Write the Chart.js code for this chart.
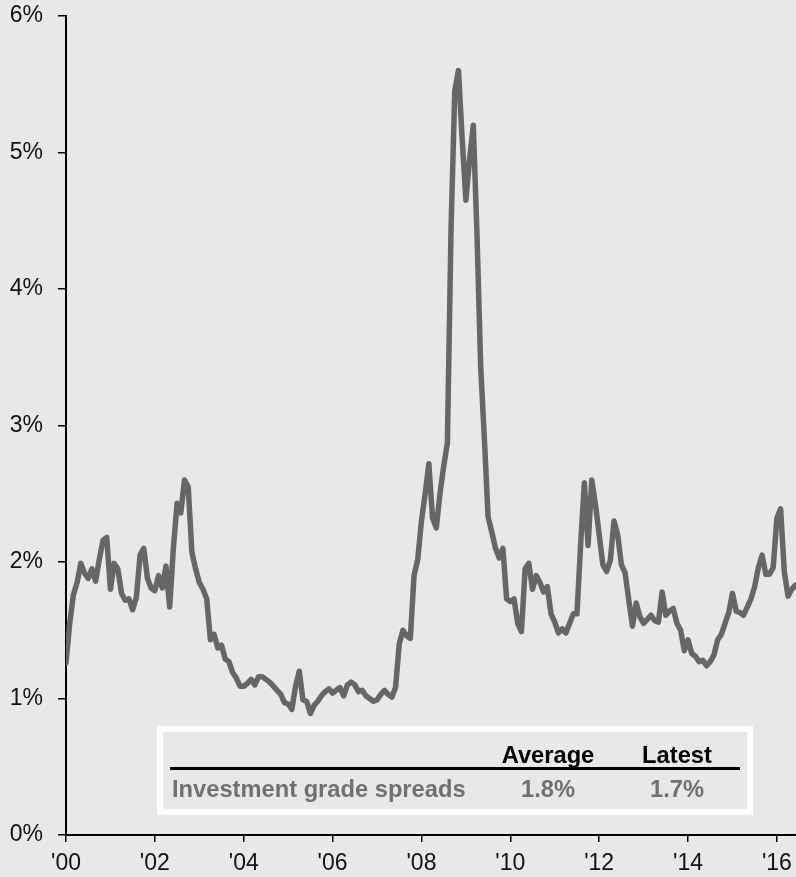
<!DOCTYPE html>
<html>
<head>
<meta charset="utf-8">
<script src="https://cdn.jsdelivr.net/npm/chart.js@4.4.1/dist/chart.umd.min.js"></script>
<style>
    html, body { margin: 0; padding: 0; background: #e8e8e8; }
    #wrap {
        position: relative;
        width: 796px;
        height: 877px;
        background: #e8e8e8;
        font-family: 'Liberation Sans', Arial, sans-serif;
    }
    #chart { position: absolute; left: 0; top: 0; }
    .box {
        position: absolute;
        left: 157px; top: 726px;
        width: 596px; height: 89px;
        border: 6px solid #fff;
        box-sizing: border-box;
    }
    .t {
        position: absolute;
        font-weight: bold;
        font-size: 23.7px;
        line-height: 24px;
        white-space: nowrap;
    }
    .head { color: #000; top: 743px; }
    .row { color: #707070; top: 777px; }
    .c { width: 200px; text-align: center; }
    .rule {
        position: absolute;
        left: 170px; top: 767px;
        width: 570px; height: 3px;
        background: #000;
    }
</style>
</head>
<body>
<div id="wrap">
    <canvas id="chart" width="796" height="877"></canvas>
    <div class="box"></div>
    <div class="t head c" id="h-avg" style="left:448px"></div>
    <div class="t head c" id="h-last" style="left:577px"></div>
    <div class="rule"></div>
    <div class="t row" id="r-name" style="left:172px"></div>
    <div class="t row c" id="r-avg" style="left:448px"></div>
    <div class="t row c" id="r-last" style="left:577px"></div>
</div>
<script>
// monthly investment grade spreads (%), Jan 2000 onwards
const startYear = 2000;
const spreads = [
    1.26, 1.55, 1.76, 1.85, 1.99, 1.92, 1.88, 1.95, 1.86, 2.02, 2.16, 2.18, // 2000
    1.80, 1.99, 1.95, 1.77, 1.72, 1.73, 1.65, 1.74, 2.05, 2.10, 1.88, 1.81, // 2001
    1.79, 1.90, 1.81, 1.97, 1.67, 2.10, 2.43, 2.36, 2.60, 2.55, 2.07, 1.95, // 2002
    1.85, 1.80, 1.73, 1.43, 1.47, 1.37, 1.39, 1.29, 1.27, 1.19, 1.15, 1.09, // 2003
    1.09, 1.11, 1.14, 1.10, 1.16, 1.16, 1.14, 1.12, 1.09, 1.06, 1.03, 0.97, // 2004
    0.96, 0.92, 1.09, 1.20, 0.99, 0.98, 0.89, 0.95, 0.98, 1.02, 1.05, 1.07, // 2005
    1.04, 1.06, 1.08, 1.02, 1.10, 1.12, 1.10, 1.05, 1.06, 1.02, 1.00, 0.98, // 2006
    0.99, 1.03, 1.06, 1.03, 1.01, 1.08, 1.40, 1.50, 1.46, 1.44, 1.90, 2.02, // 2007
    2.30, 2.50, 2.72, 2.32, 2.25, 2.50, 2.70, 2.87, 4.45, 5.45, 5.60, 5.10, // 2008
    4.65, 4.95, 5.20, 4.40, 3.43, 2.90, 2.33, 2.22, 2.10, 2.03, 2.10, 1.73, // 2009
    1.71, 1.73, 1.55, 1.49, 1.95, 1.99, 1.80, 1.90, 1.85, 1.78, 1.82, 1.62, // 2010
    1.56, 1.48, 1.51, 1.48, 1.55, 1.62, 1.62, 2.13, 2.58, 2.12, 2.60, 2.42, // 2011
    2.20, 1.98, 1.93, 2.01, 2.30, 2.20, 1.98, 1.92, 1.72, 1.53, 1.70, 1.60, // 2012
    1.55, 1.58, 1.61, 1.57, 1.56, 1.78, 1.61, 1.64, 1.66, 1.55, 1.50, 1.35, // 2013
    1.43, 1.33, 1.31, 1.27, 1.28, 1.24, 1.27, 1.32, 1.43, 1.47, 1.55, 1.63, // 2014
    1.77, 1.64, 1.63, 1.61, 1.67, 1.73, 1.82, 1.96, 2.05, 1.91, 1.91, 1.96, // 2015
    2.32, 2.39, 1.93, 1.75, 1.80, 1.83                                      // 2016
];
const tickYears = [2000, 2002, 2004, 2006, 2008, 2010, 2012, 2014, 2016];
const yTicks = [0, 1, 2, 3, 4, 5, 6];

const tableHeaders = ['Average', 'Latest'];
const seriesName = 'Investment grade spreads';
const averageSpread = 1.8;
const latestSpread = 1.7;

document.getElementById('h-avg').textContent = tableHeaders[0];
document.getElementById('h-last').textContent = tableHeaders[1];
document.getElementById('r-name').textContent = seriesName;
document.getElementById('r-avg').textContent = averageSpread.toFixed(1) + '%';
document.getElementById('r-last').textContent = latestSpread.toFixed(1) + '%';

const points = spreads.map((v, i) => ({ x: startYear + i / 12, y: v }));
const tickFont = { family: "'Liberation Sans', Arial, sans-serif", size: 23 };

// keep the plot area where the original has it, ignoring label overflow padding
function noPadding(scale) {
    scale.paddingTop = 0;
    scale.paddingBottom = 0;
    scale.paddingLeft = 0;
    scale.paddingRight = 0;
}

new Chart(document.getElementById('chart'), {
    type: 'line',
    data: {
        datasets: [{
            label: seriesName,
            data: points,
            borderColor: '#666666',
            borderWidth: 5.5,
            pointRadius: 0,
            tension: 0,
            borderJoinStyle: 'round',
            borderCapStyle: 'round'
        }]
    },
    options: {
        responsive: false,
        animation: false,
        layout: { padding: { top: 16, right: 0, bottom: 0, left: 0 } },
        plugins: {
            legend: { display: false },
            tooltip: { enabled: false }
        },
        scales: {
            x: {
                type: 'linear',
                min: startYear,
                max: 2016.43,
                afterBuildTicks: scale => {
                    scale.ticks = tickYears.map(v => ({ value: v }));
                },
                afterFit: scale => { scale.height = 42; noPadding(scale); },
                border: { display: true, color: '#000', width: 2 },
                grid: { drawOnChartArea: false, drawTicks: true, tickLength: 7, color: '#000', lineWidth: 1.5 },
                ticks: {
                    color: '#111',
                    font: tickFont,
                    padding: 8,
                    maxRotation: 0,
                    callback: v => "'" + String(v).slice(2)
                }
            },
            y: {
                min: 0,
                max: 6,
                afterBuildTicks: scale => {
                    scale.ticks = yTicks.map(v => ({ value: v }));
                },
                afterFit: scale => { scale.width = 66; noPadding(scale); },
                border: { display: true, color: '#000', width: 2 },
                grid: { drawOnChartArea: false, drawTicks: true, tickLength: 8, color: '#000', lineWidth: 1.5 },
                ticks: {
                    color: '#111',
                    font: tickFont,
                    padding: 15,
                    callback: v => v + '%'
                }
            }
        }
    }
});
</script>
</body>
</html>
